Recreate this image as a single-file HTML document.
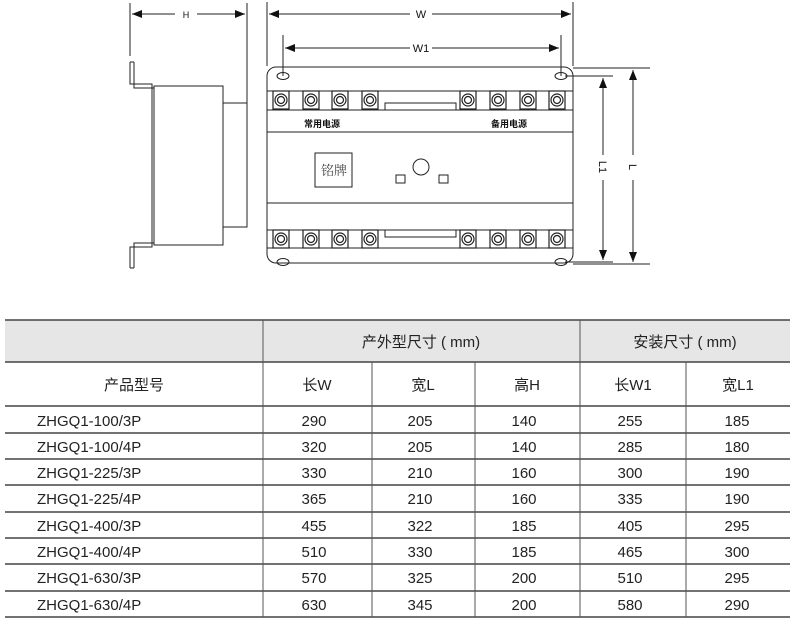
<!DOCTYPE html>
<html><head><meta charset="utf-8"><style>
body{margin:0;background:#fff;width:800px;height:630px;overflow:hidden;position:relative;font-family:"Liberation Sans","Noto Sans CJK SC",sans-serif;}
svg{position:absolute;left:0;top:0}
</style></head><body>
<svg width="800" height="630" viewBox="0 0 800 630" xmlns="http://www.w3.org/2000/svg">
<defs>
<marker id="a" markerWidth="10" markerHeight="8" refX="10" refY="4" orient="auto" markerUnits="userSpaceOnUse"><path d="M0,0 L10,4 L0,8 Z" fill="#111"/></marker>
<marker id="as" markerWidth="10" markerHeight="8" refX="0" refY="4" orient="auto" markerUnits="userSpaceOnUse"><path d="M10,0 L0,4 L10,8 Z" fill="#111"/></marker>
<g id="t"><rect x="-8" y="0" width="16" height="18"/><circle cx="0" cy="9" r="6"/><circle cx="0" cy="9" r="3.5"/></g>
</defs>
<g stroke="#222" fill="none" stroke-width="1">
<line x1="130" y1="3" x2="130" y2="56"/>
<line x1="247" y1="3" x2="247" y2="103"/>
<line x1="132" y1="14" x2="175" y2="14" marker-start="url(#as)"/>
<line x1="197" y1="14" x2="245" y2="14" marker-end="url(#a)"/>
<path d="M130,62 V84 H152 V247 H130 V268 M134,62 V88 H154 V243 H134 V268" />
<path d="M130,62 H134 M130,268 H134"/>
<rect x="154" y="86" width="69" height="159"/>
<rect x="223" y="103" width="24" height="124"/>
<line x1="267" y1="2" x2="267" y2="66"/>
<line x1="573" y1="2" x2="573" y2="66"/>
<line x1="269" y1="14" x2="410" y2="14" marker-start="url(#as)"/>
<line x1="432" y1="14" x2="571" y2="14" marker-end="url(#a)"/>
<line x1="283" y1="35" x2="283" y2="76"/>
<line x1="561" y1="35" x2="561" y2="76"/>
<line x1="285" y1="48" x2="410" y2="48" marker-start="url(#as)"/>
<line x1="432" y1="48" x2="559" y2="48" marker-end="url(#a)"/>
<line x1="573" y1="68" x2="650" y2="68"/>
<line x1="565" y1="76" x2="613" y2="76"/>
<line x1="565" y1="262" x2="613" y2="262"/>
<line x1="573" y1="264" x2="650" y2="264"/>
<line x1="603" y1="78" x2="603" y2="155" marker-start="url(#as)"/>
<line x1="603" y1="180" x2="603" y2="260" marker-end="url(#a)"/>
<line x1="633" y1="70" x2="633" y2="155" marker-start="url(#as)"/>
<line x1="633" y1="180" x2="633" y2="262" marker-end="url(#a)"/>
<rect x="267" y="67" width="306" height="196" rx="9"/>
<ellipse cx="283" cy="76" rx="6" ry="3.5"/><ellipse cx="561" cy="76" rx="6" ry="3.5"/>
<ellipse cx="283" cy="262" rx="6" ry="3.5"/><ellipse cx="561" cy="262" rx="6" ry="3.5"/>
<line x1="267" y1="91" x2="573" y2="91"/>
<line x1="267" y1="110" x2="573" y2="110"/>
<line x1="267" y1="132" x2="573" y2="132"/>
<line x1="267" y1="203" x2="573" y2="203"/>
<line x1="267" y1="230" x2="573" y2="230"/>
<line x1="267" y1="248" x2="573" y2="248"/>
<rect x="385" y="103" width="71" height="7"/>
<rect x="385" y="230" width="71" height="7"/>
<rect x="315" y="153" width="37" height="34"/>
<circle cx="421" cy="167" r="8"/>
<rect x="396" y="175" width="9" height="8"/>
<rect x="439" y="175" width="9" height="8"/>
</g>
<g stroke="#222" fill="none" stroke-width="1.2">
<use href="#t" x="281" y="91"/><use href="#t" x="311" y="91"/><use href="#t" x="340" y="91"/><use href="#t" x="370" y="91"/>
<use href="#t" x="468" y="91"/><use href="#t" x="498" y="91"/><use href="#t" x="528" y="91"/><use href="#t" x="557" y="91"/>
<use href="#t" x="281" y="230"/><use href="#t" x="311" y="230"/><use href="#t" x="340" y="230"/><use href="#t" x="370" y="230"/>
<use href="#t" x="468" y="230"/><use href="#t" x="498" y="230"/><use href="#t" x="528" y="230"/><use href="#t" x="557" y="230"/>
</g>
<g font-family="Liberation Sans, sans-serif" font-size="11" fill="#111" text-anchor="middle">
<text x="186" y="18" font-size="9">H</text>
<text x="421" y="18">W</text>
<text x="421" y="52">W1</text>
<text x="603" y="171" transform="rotate(90 603 167)">L1</text>
<text x="633" y="171" transform="rotate(90 633 167)">L</text>
</g>
<g font-family="Liberation Sans, Noto Sans CJK SC, sans-serif" fill="#111" text-anchor="middle">
<text x="322" y="127" font-size="9" font-weight="bold">常用电源</text>
<text x="509" y="127" font-size="9" font-weight="bold">备用电源</text>
<text x="334" y="175" font-size="13" font-family="Noto Serif CJK SC, serif" fill="#444">铭牌</text>
</g>
<rect x="5" y="320" width="785" height="42" fill="#e6e6e6"/>
<g stroke="#444" stroke-width="1.6">
<line x1="5" y1="320" x2="790" y2="320"/>
<line x1="5" y1="362" x2="790" y2="362"/>
<line x1="5" y1="406" x2="790" y2="406"/>
<line x1="5" y1="433" x2="790" y2="433"/>
<line x1="5" y1="459" x2="790" y2="459"/>
<line x1="5" y1="485" x2="790" y2="485"/>
<line x1="5" y1="512" x2="790" y2="512"/>
<line x1="5" y1="538" x2="790" y2="538"/>
<line x1="5" y1="564" x2="790" y2="564"/>
<line x1="5" y1="591" x2="790" y2="591"/>
<line x1="5" y1="617" x2="790" y2="617"/>
</g>
<g stroke="#555" stroke-width="1">
<line x1="263" y1="320" x2="263" y2="617"/>
<line x1="580" y1="320" x2="580" y2="617"/>
<line x1="372" y1="362" x2="372" y2="617"/>
<line x1="475" y1="362" x2="475" y2="617"/>
<line x1="686" y1="362" x2="686" y2="617"/>
</g>
<g font-family="Liberation Sans, Noto Sans CJK SC, sans-serif" font-size="15" fill="#222" text-anchor="middle">
<text x="421" y="347">产外型尺寸 ( mm)</text>
<text x="685" y="347">安装尺寸 ( mm)</text>
<text x="134" y="390">产品型号</text>
<text x="317" y="390">长W</text>
<text x="423" y="390">宽L</text>
<text x="527" y="390">高H</text>
<text x="633" y="390">长W1</text>
<text x="738" y="390">宽L1</text>
</g>
<g font-family="Liberation Sans, sans-serif" font-size="15" fill="#222">
<g text-anchor="start">
<text x="37" y="426">ZHGQ1-100/3P</text>
<text x="37" y="452">ZHGQ1-100/4P</text>
<text x="37" y="478">ZHGQ1-225/3P</text>
<text x="37" y="504">ZHGQ1-225/4P</text>
<text x="37" y="531">ZHGQ1-400/3P</text>
<text x="37" y="557">ZHGQ1-400/4P</text>
<text x="37" y="583">ZHGQ1-630/3P</text>
<text x="37" y="610">ZHGQ1-630/4P</text>
</g>
<g text-anchor="middle">
<text x="314" y="426">290</text><text x="420" y="426">205</text><text x="524" y="426">140</text><text x="630" y="426">255</text><text x="737" y="426">185</text>
<text x="314" y="452">320</text><text x="420" y="452">205</text><text x="524" y="452">140</text><text x="630" y="452">285</text><text x="737" y="452">180</text>
<text x="314" y="478">330</text><text x="420" y="478">210</text><text x="524" y="478">160</text><text x="630" y="478">300</text><text x="737" y="478">190</text>
<text x="314" y="504">365</text><text x="420" y="504">210</text><text x="524" y="504">160</text><text x="630" y="504">335</text><text x="737" y="504">190</text>
<text x="314" y="531">455</text><text x="420" y="531">322</text><text x="524" y="531">185</text><text x="630" y="531">405</text><text x="737" y="531">295</text>
<text x="314" y="557">510</text><text x="420" y="557">330</text><text x="524" y="557">185</text><text x="630" y="557">465</text><text x="737" y="557">300</text>
<text x="314" y="583">570</text><text x="420" y="583">325</text><text x="524" y="583">200</text><text x="630" y="583">510</text><text x="737" y="583">295</text>
<text x="314" y="610">630</text><text x="420" y="610">345</text><text x="524" y="610">200</text><text x="630" y="610">580</text><text x="737" y="610">290</text>
</g>
</g>
</svg>
</body></html>
